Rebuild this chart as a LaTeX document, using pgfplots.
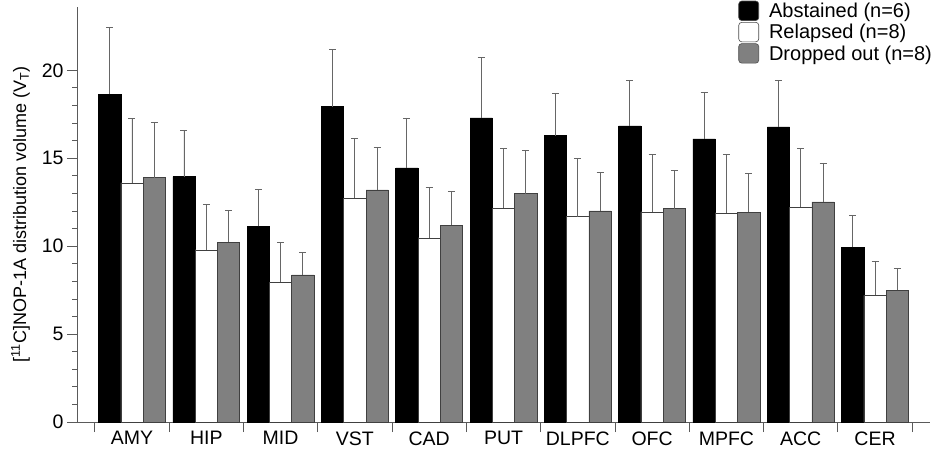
\documentclass[border=0pt]{standalone}
\usepackage{fontspec}
\setmainfont{Liberation Sans}
\usepackage{pgfplots}
\usepackage{pgfplotstable}
\pgfplotsset{compat=1.18}
\definecolor{bargrey}{HTML}{808080}
\definecolor{errgrey}{HTML}{666666}
\definecolor{axgrey}{HTML}{5A5A5A}
\pgfplotstableread{
x b be w we g ge
0 18.64 3.80 13.60 3.66 13.90 3.16
1 13.96 2.61 9.79 2.60 10.23 1.80
2 11.12 2.08 7.95 2.26 8.37 1.25
3 17.94 3.26 12.71 3.41 13.20 2.39
4 14.45 2.84 10.47 2.84 11.19 1.94
5 17.29 3.43 12.16 3.37 12.99 2.46
6 16.29 2.38 11.67 3.29 12.01 2.16
7 16.84 2.57 11.95 3.26 12.14 2.16
8 16.10 2.63 11.89 3.32 11.93 2.22
9 16.78 2.65 12.22 3.31 12.52 2.21
10 9.94 1.78 7.20 1.95 7.48 1.27
}\datatable
\pgfplotsset{
  mylegend/.style={legend image code/.code={\draw[rounded corners=3pt, line width=0.6pt, draw=black!70] (0pt,-9.5pt) rectangle (20pt,10pt); \path (28pt,0pt);}},
  myerr/.style={error bars/.cd, y dir=plus, y explicit,
    error bar style={errgrey, line width=0.9pt},
    error mark options={rotate=90, mark size=3.5pt, line width=0.9pt, errgrey}},
}
\begin{document}
\begin{tikzpicture}
\begin{axis}[
  scale only axis,
  width=853pt, height=415pt,
  xmin=-0.74, xmax=10.74,
  ymin=0, ymax=23.6,
  axis lines=left,
  axis line style={-, axgrey, line width=0.8pt},
  every tick/.style={axgrey, line width=0.8pt},
  tick align=outside,
  ytick={0,5,10,15,20},
  minor y tick num=4,
  major tick length=10pt,
  minor tick length=5pt,
  xtick={-0.5,0.5,...,10.5},
  xticklabels={},
  extra x ticks={0,1,2,3,4,5,6,7,8,9,10},
  extra x tick labels={AMY,HIP,MID,VST,CAD,PUT,DLPFC,OFC,MPFC,ACC,CER},
  extra x tick style={major tick length=0pt, tick label style={yshift=-6pt}},
  tick label style={font=\fontsize{19.5}{23}\selectfont},
  /pgf/number format/assume math mode=true,
  ylabel={[\textsuperscript{11}C]NOP-1A distribution volume (V\textsubscript{T})},
  ylabel style={font=\fontsize{18}{22}\selectfont, yshift=5pt},
  legend style={draw=none, fill=none, at={(1.006,1.018)}, anchor=north east,
    font=\fontsize{20}{24}\selectfont, row sep=1pt, inner sep=1pt},
  legend cell align=left,
  clip=false,
  ybar, bar width=0.3,
]
\coordinate (sw) at (rel axis cs:0,0);
\coordinate (ne) at (rel axis cs:1,1);
\addplot[bar shift=0, fill=black, draw=black, line width=0.6pt, mylegend, myerr]
  table[x expr=\thisrow{x}-0.3, y=b, y error=be]{\datatable};
\addlegendentry{Abstained (n=6)}
\addplot[bar shift=0, fill=white, draw=black!75, line width=0.6pt, mylegend, myerr]
  table[x=x, y=w, y error=we]{\datatable};
\addlegendentry{Relapsed (n=8)}
\addplot[bar shift=0, fill=bargrey, draw=black!75, line width=0.6pt, mylegend, myerr]
  table[x expr=\thisrow{x}+0.3, y=g, y error=ge]{\datatable};
\addlegendentry{Dropped out (n=8)}
\end{axis}
\pgfresetboundingbox
\path (sw) ++(-77pt,-31pt) coordinate (bba);
\path (ne) ++(5pt,7pt) coordinate (bbb);
\path[use as bounding box] (bba) rectangle (bbb);
\end{tikzpicture}
\end{document}
